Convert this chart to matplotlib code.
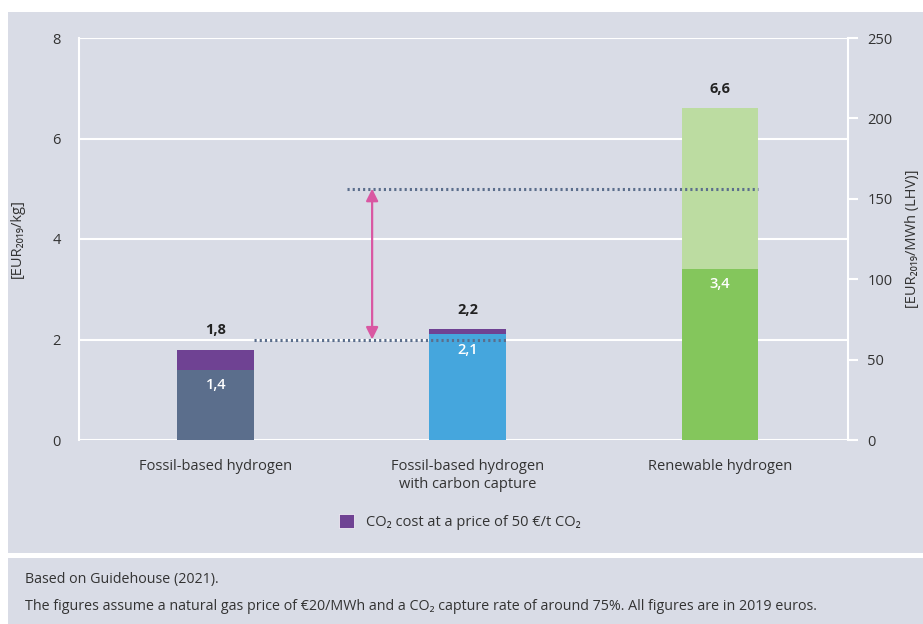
import matplotlib.pyplot as plt
from matplotlib.patches import Rectangle, Patch

plt.rcParams['font.family'] = ['Open Sans', 'DejaVu Sans']

# hydrogen production cost, EUR2019/kg
categories = ['Fossil-based hydrogen', 'Fossil-based hydrogen\nwith carbon capture', 'Renewable hydrogen']
base_cost = [1.4, 2.1, 3.4]
total_cost = [1.8, 2.2, 6.6]
base_labels = ['1,4', '2,1', '3,4']
total_labels = ['1,8', '2,2', '6,6']
co2_cost = [total_cost[0] - base_cost[0], total_cost[1] - base_cost[1]]

# dotted reference levels and the range arrow between them
ref_low = 2.0
ref_high = 5.0

left_ticks = [0, 2, 4, 6, 8]
right_ticks = [0, 50, 100, 150, 200, 250]

BG = '#d9dce6'
SLATE = '#5b6e8c'
BLUE = '#45a6dd'
PURPLE = '#6f4293'
GREEN = '#84c65c'
LIGHT_GREEN = '#bcdca1'
PINK = '#d957a2'
TXT = '#333333'
FS = 10.5

fig = plt.figure(figsize=(9.23, 6.24), dpi=100)
fig.patch.set_facecolor('white')
# grey panels: chart area and footnote area, split by a white band
fig.patches.append(Rectangle((8 / 923, 71 / 624), 1, 541 / 624, transform=fig.transFigure,
                             facecolor=BG, edgecolor='none', zorder=-10))
fig.patches.append(Rectangle((8 / 923, 0), 1, 66 / 624, transform=fig.transFigure,
                             facecolor=BG, edgecolor='none', zorder=-10))

ax = fig.add_axes([79 / 923, 1 - 440 / 624, 769 / 923, 402 / 624])
ax.set_facecolor(BG)
x = [0, 1, 2]
w = 0.305

colors = [SLATE, BLUE, GREEN]
ax.bar(x, base_cost, width=w, color=colors, zorder=3)
ax.bar(x[:2], co2_cost, bottom=base_cost[:2], width=w, color=PURPLE, zorder=3)
ax.bar(x[2], total_cost[2] - base_cost[2], bottom=base_cost[2], width=w, color=LIGHT_GREEN, zorder=3)

for xi, b, t, bl, tl in zip(x, base_cost, total_cost, base_labels, total_labels):
    ax.annotate(tl, (xi, t), xytext=(0, 9), textcoords='offset points', ha='center', va='bottom',
                fontsize=FS, fontweight='bold', color='#222222')
    ax.annotate(bl, (xi, b), xytext=(0, -6), textcoords='offset points', ha='center', va='top',
                fontsize=FS, fontweight='semibold', color='white')

# dotted reference lines
dots = (0, (0.7, 1.0))
ax.plot([x[0] + w / 2, x[1] + w / 2], [ref_low, ref_low], color=SLATE, lw=2.2,
        linestyle=dots, zorder=4)
ax.plot([0.52, x[2] + w / 2], [ref_high, ref_high], color=SLATE, lw=2.2,
        linestyle=dots, zorder=4)
ax.annotate('', xy=(0.62, ref_high), xytext=(0.62, ref_low),
            arrowprops=dict(arrowstyle='<|-|>', color=PINK, lw=1.6, mutation_scale=18,
                            shrinkA=0, shrinkB=0), zorder=5)

ax.set_xlim(-0.543, 2.508)
ax.set_ylim(0, 8)
ax.set_yticks(left_ticks)
ax.set_xticks(x)
ax.set_xticklabels(categories, fontsize=FS, color=TXT)
ax.tick_params(axis='x', length=0, pad=14)
ax.tick_params(axis='y', length=0, pad=13, labelsize=FS, labelcolor=TXT)
ax.grid(axis='y', color='white', lw=1.5, zorder=0)
ax.set_axisbelow(True)
for s in ['top', 'right', 'bottom']:
    ax.spines[s].set_visible(False)
ax.spines['left'].set_color('white')
ax.spines['left'].set_linewidth(1.5)
ax.set_ylabel('[EUR₂₀₁₉/kg]', fontsize=FS, color=TXT, labelpad=20)

ax2 = ax.twinx()
ax2.set_ylim(0, 250)
ax2.set_yticks(right_ticks)
ax2.tick_params(axis='y', length=7, width=1.5, color='white', pad=7, labelsize=FS, labelcolor=TXT)
for s in ['top', 'left', 'bottom']:
    ax2.spines[s].set_visible(False)
ax2.spines['right'].set_color('white')
ax2.spines['right'].set_linewidth(1.5)
ax2.set_ylabel('[EUR₂₀₁₉/MWh (LHV)]', fontsize=FS, color=TXT, labelpad=9)

fig.legend(handles=[Patch(facecolor=PURPLE, edgecolor='white', lw=0.5)],
           labels=['CO₂ cost at a price of 50 €/t CO₂'], loc='center',
           bbox_to_anchor=(460 / 923, 1 - 522 / 624), frameon=False, fontsize=FS,
           handlelength=1.05, handleheight=1.05, handletextpad=0.8, labelcolor=TXT)

fig.text(25 / 923, 1 - 580 / 624, 'Based on Guidehouse (2021).', fontsize=10.3, color=TXT, va='center')
fig.text(25 / 923, 1 - 606 / 624,
         'The figures assume a natural gas price of €20/MWh and a CO₂ capture rate of around 75%. '
         'All figures are in 2019 euros.', fontsize=10.3, color=TXT, va='center')

fig.savefig('out.png', dpi=100, facecolor=fig.get_facecolor())
